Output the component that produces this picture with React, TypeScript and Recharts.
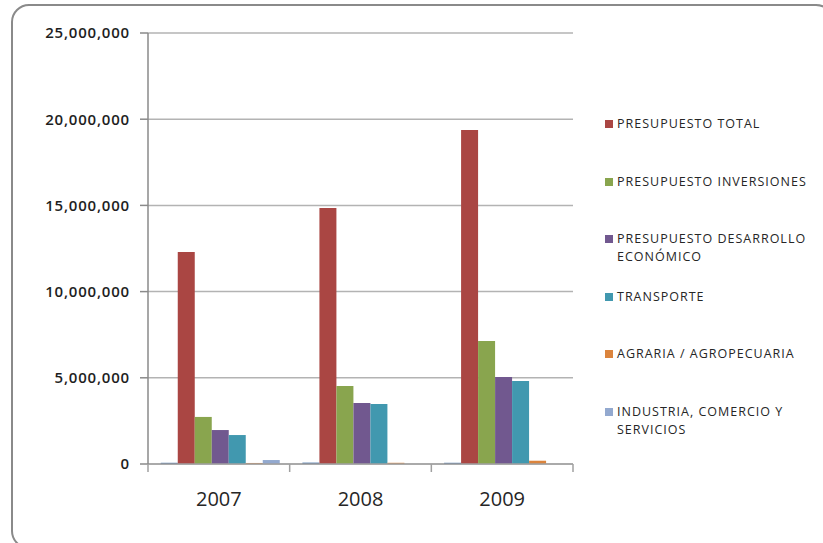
import React from 'react';
import { BarChart, Bar, XAxis, YAxis, CartesianGrid, Legend } from 'recharts';

const years = ['2007', '2008', '2009'];

// first series has no legend entry in the original (only a sliver is visible)
const anio = [70000, 80000, 70000];
const presupuestoTotal = [12300000, 14850000, 19370000];
const presupuestoInversiones = [2730000, 4520000, 7130000];
const desarrolloEconomico = [1970000, 3540000, 5050000];
const transporte = [1680000, 3480000, 4810000];
const agraria = [60000, 70000, 190000];
const industria = [230000, 0, 0];

const yTicks = [0, 5000000, 10000000, 15000000, 20000000, 25000000];

const series = [
  { key: 'anio', name: 'AÑO', color: '#4572A7', values: anio, legend: false },
  { key: 'total', name: 'PRESUPUESTO TOTAL', color: '#AA4643', values: presupuestoTotal, legend: true },
  { key: 'inversiones', name: 'PRESUPUESTO INVERSIONES', color: '#89A54E', values: presupuestoInversiones, legend: true },
  { key: 'desarrollo', name: 'PRESUPUESTO DESARROLLO ECONÓMICO', color: '#71588F', values: desarrolloEconomico, legend: true },
  { key: 'transporte', name: 'TRANSPORTE', color: '#4198AF', values: transporte, legend: true },
  { key: 'agraria', name: 'AGRARIA / AGROPECUARIA', color: '#DB843D', values: agraria, legend: true },
  { key: 'industria', name: 'INDUSTRIA, COMERCIO Y SERVICIOS', color: '#93A9CF', values: industria, legend: true },
];

const data = years.map((year, i) => {
  const row: Record<string, string | number> = { year };
  series.forEach((s) => {
    row[s.key] = s.values[i];
  });
  return row;
});

const fmt = (v: number) => v.toLocaleString('en-US');

const TICK_SIZE = 8;
const TICK_MARGIN = 20;

// category label plus the Excel-style tick marks between categories
const YearTick = (props: any) => {
  const { x, y, payload, index, visibleTicksCount } = props;
  const half = payload.offset || 425 / 6;
  const axisY = y - TICK_SIZE - TICK_MARGIN;
  const isLast = index === visibleTicksCount - 1;
  return (
    <g>
      <line x1={x - half} x2={x - half} y1={axisY} y2={axisY + TICK_SIZE} stroke="#a0a0a0" strokeWidth={1.5} />
      {isLast && <line x1={x + half} x2={x + half} y1={axisY} y2={axisY + TICK_SIZE} stroke="#a0a0a0" strokeWidth={1.5} />}
      <text x={x} y={y} dy="0.71em" textAnchor="middle" fontFamily="Open Sans" fontSize={20} fill="#262626">
        {payload.value}
      </text>
    </g>
  );
};

const LegendBox = () => (
  <div style={{ fontFamily: 'Open Sans', fontSize: 12.5, color: '#262626', letterSpacing: 1 }}>
    {series
      .filter((s) => s.legend)
      .map((s) => (
        <div key={s.key} style={{ height: 57.6, display: 'flex', alignItems: 'flex-start' }}>
          <div style={{ width: 8, height: 8, background: s.color, marginTop: 5, marginRight: 4, flexShrink: 0 }} />
          <div style={{ width: 196, lineHeight: '18px' }}>{s.name}</div>
        </div>
      ))}
  </div>
);

export default function App() {
  return (
    <div style={{ position: 'fixed', left: 0, top: 0, width: 823, height: 543, overflow: 'hidden', background: '#fff' }}>
      <div
        style={{
          position: 'absolute',
          left: 11,
          top: 4,
          width: 823,
          height: 545,
          border: '2px solid #8a8a8a',
          borderRadius: 18,
          boxSizing: 'border-box',
        }}
      />
      <div style={{ position: 'absolute', left: 0, top: 0 }}>
        <BarChart
          width={823}
          height={543}
          data={data}
          margin={{ top: 33, right: 35, left: 0, bottom: 0 }}
          barCategoryGap="9%"
          barGap={0}
        >
          <CartesianGrid vertical={false} stroke="#b3b3b3" strokeWidth={1.5} />
          <XAxis
            dataKey="year"
            height={79}
            tickLine={false}
            tickSize={TICK_SIZE}
            tickMargin={TICK_MARGIN}
            axisLine={{ stroke: '#a0a0a0', strokeWidth: 1.5 }}
            tick={<YearTick />}
            interval={0}
          />
          <YAxis
            width={148}
            domain={[0, 25000000]}
            ticks={yTicks}
            tickFormatter={fmt}
            tickSize={8}
            tickMargin={10}
            axisLine={{ stroke: '#8a8a8a', strokeWidth: 1.5 }}
            tickLine={{ stroke: '#8a8a8a', strokeWidth: 1.5 }}
            tick={{ fontFamily: 'Open Sans', fontSize: 15, fontWeight: 600, fill: '#1e1e1e', letterSpacing: 0.8 }}
          />
          <Legend
            layout="vertical"
            align="right"
            verticalAlign="top"
            content={<LegendBox />}
            wrapperStyle={{ left: 605, top: 115, width: 215 }}
          />
          {series.map((s) => (
            <Bar
              key={s.key}
              dataKey={s.key}
              name={s.name}
              fill={s.color}
              legendType={s.legend ? 'square' : 'none'}
              isAnimationActive={false}
            />
          ))}
        </BarChart>
      </div>
    </div>
  );
}
